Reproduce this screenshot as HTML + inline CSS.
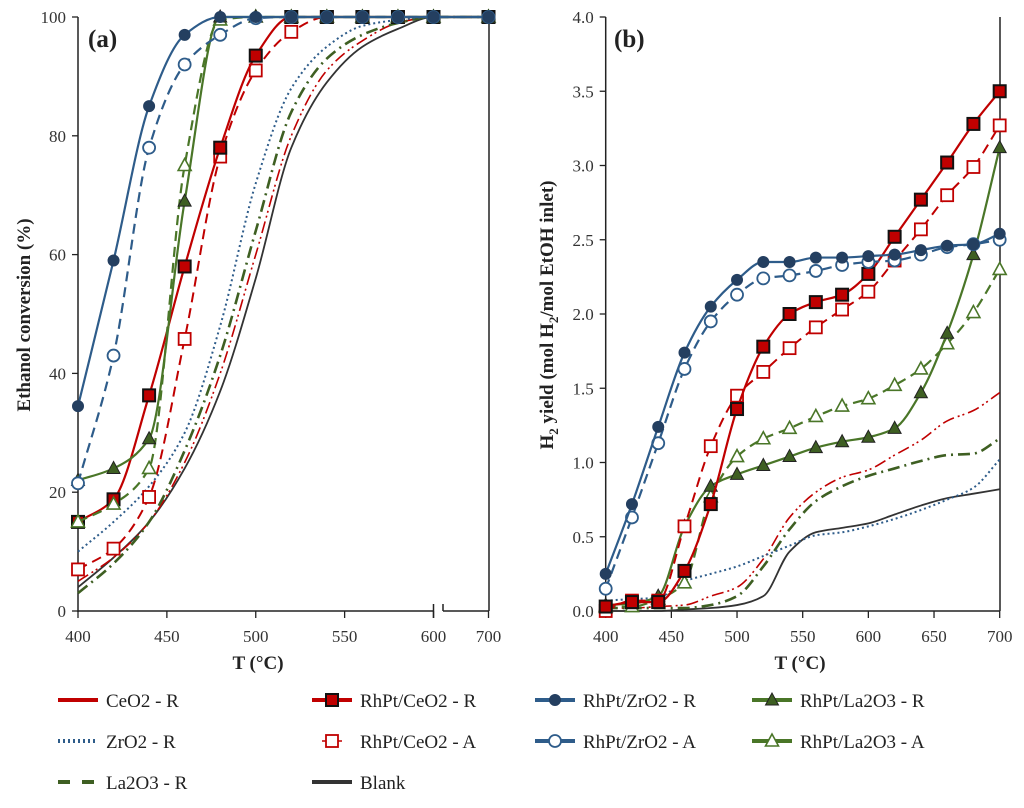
<!DOCTYPE html>
<html><head><meta charset="utf-8"><style>
body{margin:0;background:#fff;}
svg text{font-family:"Liberation Serif",serif;}
</style></head><body>
<svg id="chart" width="1024" height="803" viewBox="0 0 1024 803" xmlns="http://www.w3.org/2000/svg">
<g id="pa"></g>
<g id="pb"></g>
<g id="leg"></g>
</svg>
<script>
const tempsA = [400,420,440,460,480,500,520,540,560,580,600,700];
const aZrR  = [34.5,59,85,97,100,100,100,100,100,100,100,100];
const aZrA  = [21.5,43,78,92,97,99.8,100,100,100,100,100,100];
const aCeR  = [15,18.8,36.3,58,78,93.5,100,100,100,100,100,100];
const aCeA  = [7,10.5,19.2,45.8,76.5,91,97.5,100,100,100,100,100];
const aLaR  = [22,24,29,69,100,100,100,100,100,100,100,100];
const aLaA  = [15,18,24,75,99.5,100,100,100,100,100,100,100];
const aZrO2 = [10,15,21,30,48,72,88,95,98.5,99.5,100,100];
const aLa2O3= [3,8,15,27,43,64,84,93,97,99,100,100];
const aCeO2 = [5,9,15,25,40,60,80,91,96,99,100,100];
const aBlank= [4,9,15,24,37,56,78,89,95,98,100,100];

const tempsB = [400,420,440,460,480,500,520,540,560,580,600,620,640,660,680,700];
const bZrR  = [.25,.72,1.24,1.74,2.05,2.23,2.35,2.35,2.38,2.38,2.39,2.40,2.43,2.46,2.47,2.54];
const bZrA  = [.15,.63,1.13,1.63,1.95,2.13,2.24,2.26,2.29,2.33,2.35,2.36,2.40,2.45,2.47,2.50];
const bCeR  = [.03,.06,.06,.27,.72,1.36,1.78,2.00,2.08,2.13,2.27,2.52,2.77,3.02,3.28,3.50];
const bCeA  = [0,.07,.07,.57,1.11,1.45,1.61,1.77,1.91,2.03,2.15,2.36,2.57,2.80,2.99,3.27];
const bLaR  = [.04,.05,.1,.57,.84,.92,.98,1.04,1.10,1.14,1.17,1.23,1.47,1.87,2.40,3.12];
const bLaA  = [.03,.03,.08,.19,.77,1.04,1.16,1.23,1.31,1.38,1.43,1.52,1.63,1.80,2.01,2.30];
const bZrO2 = [.07,.08,.09,.20,.25,.30,.37,.44,.51,.53,.57,.62,.68,.75,.83,1.02];
const bLa2O3= [.02,.02,.02,.02,.04,.10,.30,.55,.74,.84,.91,.96,1.01,1.05,1.06,1.16];
const bCeO2 = [.02,.02,.03,.04,.10,.16,.35,.63,.80,.90,.95,1.05,1.15,1.28,1.35,1.47];
const bBlank= [0,0,0,.01,.02,.04,.10,.40,.53,.56,.59,.65,.71,.76,.79,.82];

const ticksAX = [400,450,500,550,600,700];
const ticksAY = [0,20,40,60,80,100];
const ticksBX = [400,450,500,550,600,650,700];
const ticksBY = [0,0.5,1,1.5,2,2.5,3,3.5,4];

const NS="http://www.w3.org/2000/svg";
const RED="#c00000", BLUE="#2e5c8a", GREEN="#4a7628", DGREEN="#3e5f22";
function mk(p,tag,at){const e=document.createElementNS(NS,tag);for(const k in at)e.setAttribute(k,at[k]);p.appendChild(e);return e;}

const xA=t=> t<=600 ? 78+(t-400)*1.7775 : 433.5+(t-600)*0.55;
const yA=v=> 611-v*5.94;
const xB=t=> 605.7+(t-400)*1.3133;
const yB=v=> 611-v*148.5;

// monotone cubic (Fritsch-Carlson) in pixel space
function smooth(p){
  const n=p.length, d=[], m=[];
  for(let i=0;i<n-1;i++) d.push((p[i+1][1]-p[i][1])/(p[i+1][0]-p[i][0]));
  m[0]=d[0]; m[n-1]=d[n-2];
  for(let i=1;i<n-1;i++){
    if(d[i-1]*d[i]<=0) m[i]=0;
    else { const h0=p[i][0]-p[i-1][0], h1=p[i+1][0]-p[i][0];
      const w1=2*h1+h0, w2=h1+2*h0; m[i]=(w1+w2)/(w1/d[i-1]+w2/d[i]); }
  }
  let s="M"+p[0][0]+","+p[0][1];
  for(let i=0;i<n-1;i++){
    const h=(p[i+1][0]-p[i][0])/3;
    s+=" C"+(p[i][0]+h)+","+(p[i][1]+m[i]*h)+" "+(p[i+1][0]-h)+","+(p[i+1][1]-m[i+1]*h)+" "+p[i+1][0]+","+p[i+1][1];
  }
  return s;
}
function marker(g,type,x,y){
  let e;
  if(type==="sqF") e=mk(g,"rect",{x:x-6,y:y-6,width:12,height:12,fill:RED,stroke:"#111","stroke-width":2});
  else if(type==="sqO") e=mk(g,"rect",{x:x-6,y:y-6,width:12,height:12,fill:"#fff",stroke:RED,"stroke-width":1.8});
  else if(type==="ciF") e=mk(g,"circle",{cx:x,cy:y,r:5.5,fill:"#243f60",stroke:"#243f60","stroke-width":1});
  else if(type==="ciO") e=mk(g,"circle",{cx:x,cy:y,r:6,fill:"#fff",stroke:BLUE,"stroke-width":1.8});
  else if(type==="trF") e=mk(g,"polygon",{points:`${x},${y-7} ${x-6.5},${y+5} ${x+6.5},${y+5}`,fill:DGREEN,stroke:"#222","stroke-width":1});
  else if(type==="trO") e=mk(g,"polygon",{points:`${x},${y-7} ${x-6.5},${y+5} ${x+6.5},${y+5}`,fill:"#fff",stroke:GREEN,"stroke-width":1.6});
  
  
}
const styles={
  ZrR:{c:BLUE,w:2.2,d:"",m:"ciF",n:"RhPt/ZrO2 - R"},
  ZrA:{c:BLUE,w:2.2,d:"10,6",m:"ciO",n:"RhPt/ZrO2 - A"},
  CeR:{c:RED,w:2.2,d:"",m:"sqF",n:"RhPt/CeO2 - R"},
  CeA:{c:RED,w:2,d:"10,6",m:"sqO",n:"RhPt/CeO2 - A"},
  LaR:{c:GREEN,w:2.2,d:"",m:"trF",n:"RhPt/La2O3 - R"},
  LaA:{c:GREEN,w:2.2,d:"10,6",m:"trO",n:"RhPt/La2O3 - A"},
  ZrO2:{c:BLUE,w:2,d:"2,3",m:null,n:"ZrO2 - R"},
  La2O3:{c:DGREEN,w:2.6,d:"12,5,2,5",m:null,n:"La2O3 - R"},
  CeO2:{c:RED,w:1.6,d:"12,4,2,3,2,4",m:null,n:"CeO2 - R"},
  Blank:{c:"#333",w:1.8,d:"",m:null,n:"Blank"}
};
function series(g,key,temps,vals,fx,fy){
  const s=styles[key];
  const pts=temps.map((t,i)=>[fx(t),fy(vals[i])]);
  const p=mk(g,"path",{d:smooth(pts),fill:"none",stroke:s.c,"stroke-width":s.w});
  if(s.d)p.setAttribute("stroke-dasharray",s.d);
  
  
  if(s.m)pts.forEach(q=>marker(g,s.m,q[0],q[1]));
}
function axes(g,L,R,T,B,xt,xf,yt,yf,fmt){
  const a1=mk(g,"line",{x1:L,y1:T,x2:L,y2:B+1,stroke:"#222","stroke-width":1.5});
  
  const a3=mk(g,"line",{x1:R,y1:T,x2:R,y2:B,stroke:"#222","stroke-width":1.5});
  
  yt.forEach(v=>{const y=yf(v);mk(g,"line",{x1:L-6,y1:y,x2:L,y2:y,stroke:"#222","stroke-width":1.3});
    const t=mk(g,"text",{x:L-12,y:y+6,"text-anchor":"end","font-size":17,fill:"#333"});t.textContent=fmt(v);
    });
  xt.forEach(v=>{const x=xf(v);mk(g,"line",{x1:x,y1:B,x2:x,y2:B+7,stroke:"#222","stroke-width":1.3});
    const t=mk(g,"text",{x:x,y:B+31,"text-anchor":"middle","font-size":17,fill:"#333"});t.textContent=v;
    });
}
// Panel A
const ga=document.getElementById("pa");
axes(ga,78,489,17,611,ticksAX,xA,ticksAY,yA,v=>v);
let ax=mk(ga,"path",{d:"M78,611 H433.5 M443,611 H489 M443,611 V604",stroke:"#222","stroke-width":1.5,fill:"none"});

mk(ga,"line",{x1:433.5,y1:604,x2:433.5,y2:618,stroke:"#222","stroke-width":1.5});
[["Blank",aBlank],["CeO2",aCeO2],["La2O3",aLa2O3],["ZrO2",aZrO2],["CeA",aCeA],["CeR",aCeR],["LaA",aLaA],["LaR",aLaR],["ZrA",aZrA],["ZrR",aZrR]]
  .forEach(([k,v])=>series(ga,k,tempsA,v,xA,yA));
let t=mk(ga,"text",{x:88,y:47,"font-size":25,"font-weight":"bold",fill:"#222"});t.textContent="(a)";

t=mk(ga,"text",{x:258,y:669,"text-anchor":"middle","font-size":19,"font-weight":"bold",fill:"#222"});t.textContent="T (°C)";

t=mk(ga,"text",{x:0,y:0,transform:"translate(30,315) rotate(-90)","text-anchor":"middle","font-size":19,"font-weight":"bold",fill:"#222"});t.textContent="Ethanol conversion (%)";

// Panel B
const gb=document.getElementById("pb");
axes(gb,605.7,1000,17,611,ticksBX,xB,ticksBY,yB,v=>v.toFixed(1));
ax=mk(gb,"line",{x1:605.7,y1:611,x2:1000,y2:611,stroke:"#222","stroke-width":1.5});

[["Blank",bBlank],["CeO2",bCeO2],["La2O3",bLa2O3],["ZrO2",bZrO2],["LaA",bLaA],["LaR",bLaR],["CeA",bCeA],["CeR",bCeR],["ZrA",bZrA],["ZrR",bZrR]]
  .forEach(([k,v])=>series(gb,k,tempsB,v,xB,yB));
t=mk(gb,"text",{x:614,y:47,"font-size":25,"font-weight":"bold",fill:"#222"});t.textContent="(b)";

t=mk(gb,"text",{x:800,y:669,"text-anchor":"middle","font-size":19,"font-weight":"bold",fill:"#222"});t.textContent="T (°C)";

t=mk(gb,"text",{x:0,y:0,transform:"translate(553,315) rotate(-90)","text-anchor":"middle","font-size":19,"font-weight":"bold",fill:"#222"});
t.innerHTML='H<tspan font-size="13" dy="5">2</tspan><tspan dy="-5"> yield (mol H</tspan><tspan font-size="13" dy="5">2</tspan><tspan dy="-5">/mol EtOH inlet)</tspan>';

// Legend
const gl=document.getElementById("leg");
const legendItems=[["CeO2",58,700],["CeR",312,700],["ZrR",535,700],["LaR",752,700],
 ["ZrO2",58,741],["CeA",312,741],["ZrA",535,741],["LaA",752,741],["La2O3",58,782],["Blank",312,782]];
legendItems.forEach(([k,x,y])=>{
  const s=styles[k];
  const g=mk(gl,"g",{});
  
  const l=mk(g,"line",{x1:x,y1:y,x2:x+40,y2:y,stroke:s.c,"stroke-width":k==="CeA"?1.5:4});
  if(k==="ZrO2")l.setAttribute("stroke-dasharray","2,3");
  if(k==="La2O3")l.setAttribute("stroke-dasharray","12,12");
  if(k==="CeA"){l.setAttribute("x1",x+10);l.setAttribute("x2",x+30);}
  if(s.m)marker(g,s.m,x+20,y);
  const tx=mk(g,"text",{x:x+48,y:y+7,"font-size":19,fill:"#222"});tx.textContent=s.n;
});
</script>
</body></html>
